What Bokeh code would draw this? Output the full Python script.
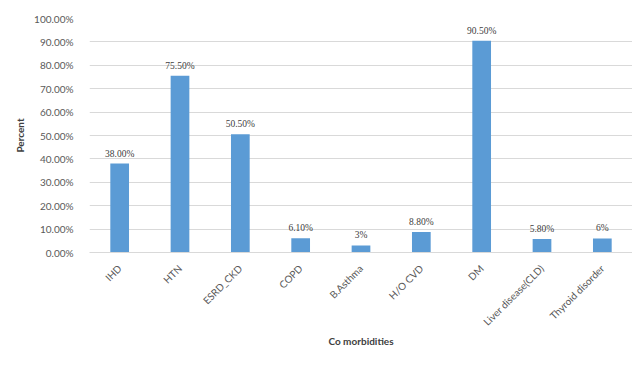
import math
from bokeh.plotting import figure
from bokeh.models import ColumnDataSource, LabelSet, FixedTicker, PrintfTickFormatter, Range1d
from bokeh.embed import file_html
from bokeh.resources import INLINE

categories = ["IHD", "HTN", "ESRD_CKD", "COPD", "B.Asthma", "H/O CVD", "DM",
              "Liver disease(CLD)", "Thyroid disorder"]
values = [38.0, 75.5, 50.5, 6.1, 3.0, 8.8, 90.5, 5.8, 6.0]
value_labels = ["38.00%", "75.50%", "50.50%", "6.10%", "3%", "8.80%", "90.50%", "5.80%", "6%"]
y_ticks = [0, 10, 20, 30, 40, 50, 60, 70, 80, 90, 100]

FONT = "Lato"
src = ColumnDataSource(dict(cat=categories, val=values, lab=value_labels))

p = figure(x_range=categories, y_range=Range1d(0, 100), width=632, height=365,
           output_backend="svg", toolbar_location=None,
           min_border_left=89, min_border_right=0, min_border_top=18, min_border_bottom=113)
p.outline_line_color = None
p.background_fill_color = "white"
p.border_fill_color = "white"

p.vbar(x="cat", top="val", width=0.31, source=src, fill_color="#5B9BD5", line_color=None)

p.add_layout(LabelSet(x="cat", y="val", text="lab", source=src, y_offset=5,
                      text_align="center", text_baseline="bottom",
                      text_font=FONT, text_font_size="9.5px", text_color="#404040"))

p.xgrid.grid_line_color = None
p.ygrid.grid_line_color = "#D9D9D9"
p.ygrid.grid_line_width = 1

p.yaxis.ticker = FixedTicker(ticks=y_ticks)
p.yaxis.formatter = PrintfTickFormatter(format="%.2f%%")
p.yaxis.axis_line_color = None
p.yaxis.major_tick_line_color = None
p.yaxis.minor_tick_line_color = None
p.yaxis.major_label_text_font = FONT
p.yaxis.major_label_text_font_size = "10px"
p.yaxis.major_label_text_color = "#595959"
p.yaxis.major_label_standoff = 10
p.yaxis.axis_label = "Percent"
p.yaxis.axis_label_text_font = FONT
p.yaxis.axis_label_text_font_size = "10px"
p.yaxis.axis_label_text_font_style = "bold"
p.yaxis.axis_label_text_color = "#404040"
p.yaxis.axis_label_standoff = 5

p.xaxis.axis_line_color = "#D9D9D9"
p.xaxis.major_tick_line_color = None
p.xaxis.minor_tick_line_color = None
p.xaxis.major_label_orientation = math.pi / 4
p.xaxis.major_label_text_font = FONT
p.xaxis.major_label_text_font_size = "10px"
p.xaxis.major_label_text_color = "#595959"
p.xaxis.major_label_standoff = 8
p.xaxis.axis_label = "Co morbidities"
p.xaxis.axis_label_text_font = FONT
p.xaxis.axis_label_text_font_size = "10px"
p.xaxis.axis_label_text_font_style = "bold"
p.xaxis.axis_label_text_color = "#404040"
p.xaxis.axis_label_standoff = 0

open("out.html", "w").write(file_html(p, INLINE))
